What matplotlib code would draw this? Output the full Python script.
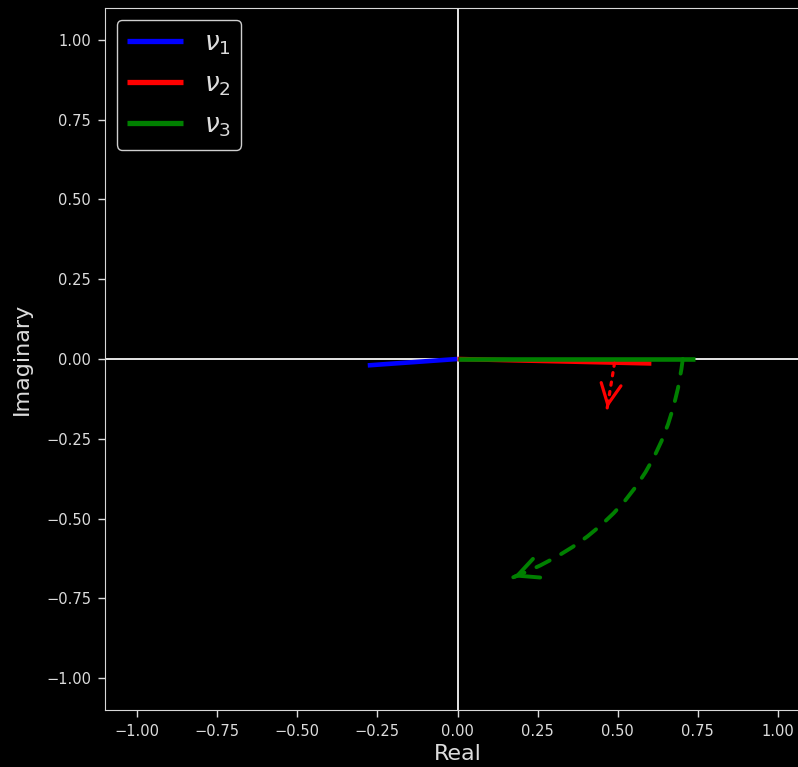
import matplotlib
matplotlib.use("Agg")
import matplotlib.pyplot as plt
from matplotlib.patches import FancyArrowPatch

# eigenvector components in the complex plane (real, imaginary)
labels = [r"$\nu_1$", r"$\nu_2$", r"$\nu_3$"]
colors = ["blue", "red", "green"]
real_parts = [-0.28, 0.605, 0.74]
imag_parts = [-0.02, -0.014, 0.0]

# rotation hints drawn as arrows
red_hint_start = (0.49, -0.013)
red_hint_end = (0.467, -0.154)
green_hint_start = (0.703, 0.0)
green_hint_end = (0.174, -0.684)
green_hint_rad = -0.3

ticks = [-1.0, -0.75, -0.5, -0.25, 0.0, 0.25, 0.5, 0.75, 1.0]

plt.style.use("dark_background")
txt = "#dcdcdc"
plt.rcParams.update({
    "text.color": txt,
    "axes.labelcolor": txt,
    "xtick.color": txt,
    "ytick.color": txt,
    "axes.edgecolor": "#d8d8d8",
})

fig = plt.figure(figsize=(7.98, 7.67), dpi=100)
ax = fig.add_axes([105 / 798, 57 / 767, 705 / 798, 702 / 767])
ax.set_xlim(-1.1, 1.1)
ax.set_ylim(-1.1, 1.1)

ax.axhline(0, color="#e6e6e6", lw=1.4, zorder=1)
ax.axvline(0, color="#e6e6e6", lw=1.4, zorder=1)

for re, im, c, lab in zip(real_parts, imag_parts, colors, labels):
    ax.plot([0, re], [0, im], color=c, lw=3.3, label=lab, zorder=3,
            solid_capstyle="butt")


def hint_arrow(start, end, rad, color, lw, dashes):
    """Dashed shaft plus a solid open head at the end point."""
    conn = f"arc3,rad={rad}"
    shaft = FancyArrowPatch(start, end, connectionstyle=conn,
                            arrowstyle="-", color=color, lw=lw,
                            linestyle=(0, dashes), shrinkA=0, shrinkB=0,
                            zorder=4)
    ax.add_patch(shaft)
    # direction of arrival: end point minus Bezier control point
    mx, my = (start[0] + end[0]) / 2, (start[1] + end[1]) / 2
    dx, dy = end[0] - start[0], end[1] - start[1]
    cx, cy = mx + rad * dy, my - rad * dx
    eps = 0.01
    tail = (end[0] - eps * (end[0] - cx), end[1] - eps * (end[1] - cy))
    head = FancyArrowPatch(tail, end,
                           arrowstyle="->,head_length=0.74,head_width=0.36",
                           mutation_scale=20, color=color, lw=lw,
                           shrinkA=0, shrinkB=0, zorder=4,
                           joinstyle="miter")
    ax.add_patch(head)


hint_arrow(red_hint_start, red_hint_end, 0.0, "red", 2.3, (1, 2))
hint_arrow(green_hint_start, green_hint_end, green_hint_rad, "green", 2.8,
           (3.8, 3.4))

ax.set_xticks(ticks)
ax.set_yticks(ticks)
ax.set_xticklabels([f"{t:.2f}".replace("-", "\u2212") for t in ticks])
ax.set_yticklabels([f"{t:.2f}".replace("-", "\u2212") for t in ticks])
ax.tick_params(labelsize=10.5, length=5, width=1, pad=5)

ax.set_xlabel("Real", fontsize=16, labelpad=4)
ax.set_ylabel("Imaginary", fontsize=16, labelpad=10)

leg = ax.legend(loc="upper left", fontsize=19, handlelength=2.1,
                framealpha=1, facecolor="black", edgecolor="#cfcfcf",
                borderaxespad=0.45, labelspacing=0.55)
for h in leg.get_lines():
    h.set_linewidth(3.8)

fig.savefig("out.png", dpi=100, facecolor="black")
